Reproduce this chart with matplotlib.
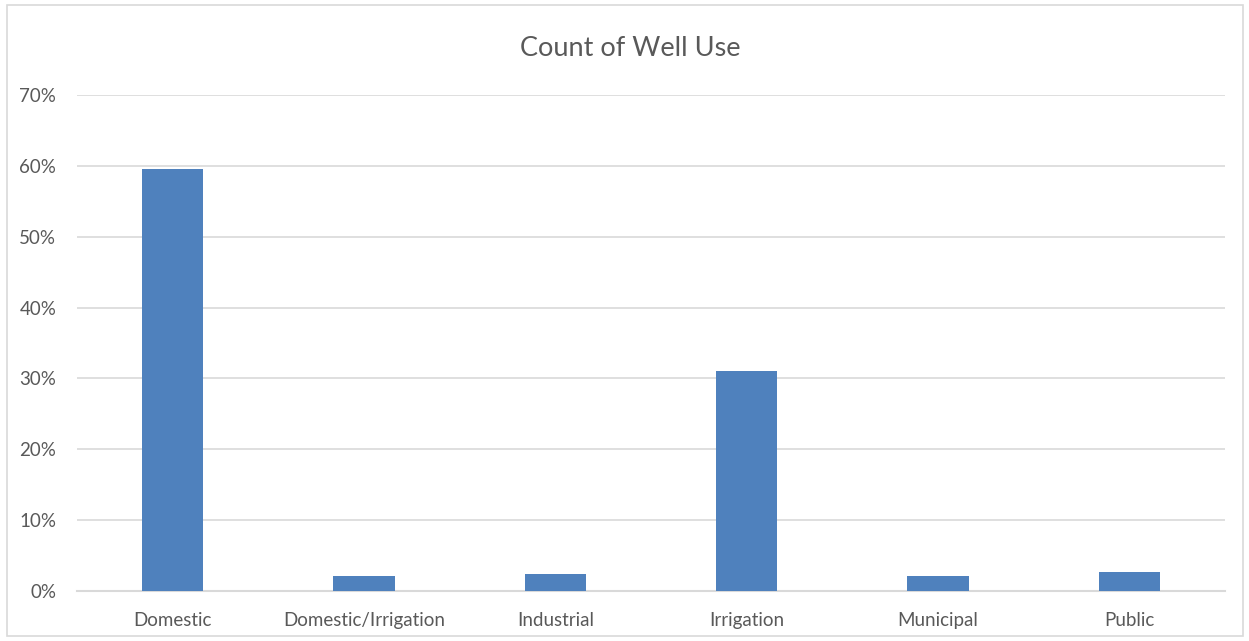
import matplotlib.pyplot as plt
from matplotlib.patches import Rectangle
from matplotlib.ticker import PercentFormatter

categories = ["Domestic", "Domestic/Irrigation", "Industrial", "Irrigation", "Municipal", "Public"]
shares = [0.596, 0.021, 0.024, 0.310, 0.021, 0.027]

text_color = "#595959"
grid_color = "#d9d9d9"
bar_color = "#4f81bd"

plt.rcParams['font.family'] = ['Lato', 'DejaVu Sans']

fig = plt.figure(figsize=(12.49, 6.41), dpi=100)
ax = fig.add_axes([0.0617, 0.078, 0.9191, 0.7738])

x = range(len(categories))
ax.bar(x, shares, width=0.32, color=bar_color, zorder=3)

ax.set_xlim(-0.5, len(categories) - 0.5)
ax.set_ylim(0, 0.7)
ax.set_yticks([i / 10 for i in range(8)])
ax.yaxis.set_major_formatter(PercentFormatter(1.0, decimals=0))
ax.set_xticks(list(x))
ax.set_xticklabels(categories)

ax.grid(axis='y', color=grid_color, linewidth=1.2, zorder=0)
for side in ("top", "right", "left"):
    ax.spines[side].set_visible(False)
ax.spines["bottom"].set_color(grid_color)
ax.spines["bottom"].set_linewidth(1.5)
ax.tick_params(axis='both', length=0, colors=text_color, labelsize=13.5)
ax.tick_params(axis='y', pad=15)
ax.tick_params(axis='x', pad=15)

fig.text(0.505, 0.925, "Count of Well Use", ha='center', va='center',
         fontsize=19.5, color=text_color)

# outer chart frame
fig.add_artist(Rectangle((0.006, 0.008), 0.989, 0.984, transform=fig.transFigure,
                         fill=False, edgecolor=grid_color, linewidth=1.2))

fig.savefig("out.png", dpi=100)
plt.close(fig)
